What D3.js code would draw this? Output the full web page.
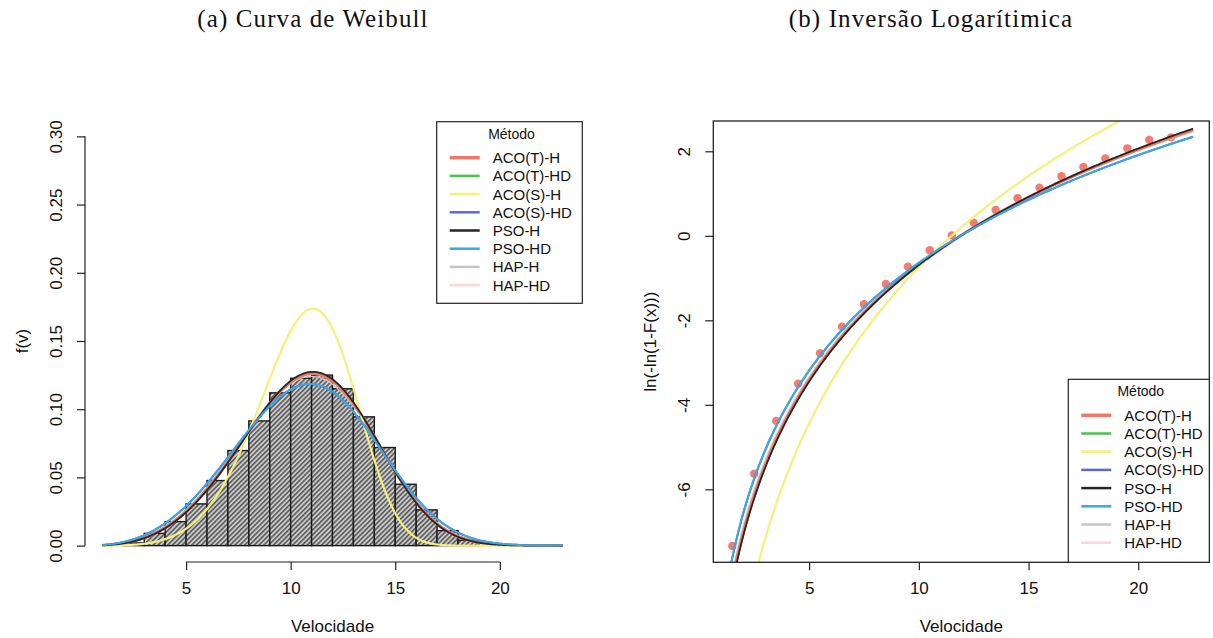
<!DOCTYPE html>
<html>
<head>
<meta charset="utf-8">
<script src="https://cdn.jsdelivr.net/npm/d3@7"></script>
<style>
  body { margin: 0; background: #fff; }
  text { font-family: "Liberation Sans", Arial, sans-serif; fill: #111; }
  .cap { font-family: "Liberation Serif", "DejaVu Serif", serif; }
</style>
</head>
<body>
<svg id="fig" width="1213" height="638"></svg>
<script>
// Fitted methods and their Weibull parameters (shape k, scale c)
const methods = ["ACO(T)-H", "ACO(T)-HD", "ACO(S)-H", "ACO(S)-HD", "PSO-H", "PSO-HD", "HAP-H", "HAP-HD"];
const weibullShape = [3.94, 3.93, 5.33, 3.68, 3.98, 3.68, 3.86, 3.94];
const weibullScale = [11.90, 11.90, 11.50, 11.90, 11.90, 11.90, 11.88, 11.90];

// Histogram of observed wind speed (unit-width bins, density scale)
const binStart = [2, 3, 4, 5, 6, 7, 8, 9, 10, 11, 12, 13, 14, 15, 16, 17, 18];
const binDensity = [0.002, 0.009, 0.0176, 0.0306, 0.0477, 0.0697, 0.0914, 0.112, 0.1227,
                    0.125, 0.115, 0.0944, 0.0719, 0.045, 0.0262, 0.011, 0.004];

// Empirical points for the log-log linearisation
const empX = [1.5, 2.5, 3.5, 4.5, 5.5, 6.5, 7.5, 8.5, 9.5, 10.5, 11.5, 12.5, 13.5, 14.5,
              15.5, 16.5, 17.5, 18.5, 19.5, 20.5, 21.5];
const empY = [-7.34, -5.63, -4.38, -3.50, -2.78, -2.15, -1.62, -1.14, -0.73, -0.34, 0.01,
              0.31, 0.61, 0.89, 1.14, 1.41, 1.63, 1.83, 2.07, 2.27, 2.33];

// Axis limits and ticks
const speedLimitsA = [1, 23];
const densityLimitsA = [0, 0.30];
const speedLimitsB = [1.47, 22.4];
const speedTicks = [5, 10, 15, 20];
const densityTicks = [0, 0.05, 0.10, 0.15, 0.20, 0.25, 0.30];
const lnTicks = [-6, -4, -2, 0, 2];
const curveRangeB = [1, 22.5];

// Styles; curves are stacked in drawOrder (last one on top)
const lineColors = ["#f07868", "#4cc24c", "#f3f07c", "#5b68d8", "#262626", "#3aa8e2", "#c6c6c6", "#ffd4dc"];
const lineWidths = [3, 2, 2.2, 2, 1.8, 2, 1.3, 1.3];
const drawOrder = [7, 6, 1, 0, 2, 3, 4, 5];

const svg = d3.select("#fig");

// R-style 4% padding of an axis range
const pad = ([a, b]) => [a - 0.04 * (b - a), b + 0.04 * (b - a)];

const weibullPdf = (v, k, c) => (k / c) * Math.pow(v / c, k - 1) * Math.exp(-Math.pow(v / c, k));
const weibullLnLn = (v, k, c) => k * Math.log(v) - k * Math.log(c);

// ---------- captions ----------
svg.append("text").attr("class", "cap").attr("x", 313).attr("y", 27)
  .attr("text-anchor", "middle").style("font-size", "25px").style("letter-spacing", "1.1px")
  .text("(a) Curva de Weibull");
svg.append("text").attr("class", "cap").attr("x", 931).attr("y", 27)
  .attr("text-anchor", "middle").style("font-size", "25px").style("letter-spacing", "1.1px")
  .text("(b) Inversão Logarítimica");

// hatch pattern for the histogram bars
const defs = svg.append("defs");
const pat = defs.append("pattern").attr("id", "hatch").attr("patternUnits", "userSpaceOnUse")
  .attr("width", 3.4).attr("height", 3.4).attr("patternTransform", "rotate(45)");
pat.append("rect").attr("width", 3.4).attr("height", 3.4).attr("fill", "#cacaca");
pat.append("line").attr("x1", 0.8).attr("y1", 0).attr("x2", 0.8).attr("y2", 3.4)
  .attr("stroke", "#404040").attr("stroke-width", 1.3);

// ---------- panel (a): density ----------
const A = { left: 84, right: 581, top: 120, bottom: 562 };
const xA = d3.scaleLinear().domain(pad(speedLimitsA)).range([A.left, A.right]);
const yA = d3.scaleLinear().domain(pad(densityLimitsA)).range([A.bottom, A.top]);
const gA = svg.append("g");

gA.selectAll("rect.bar").data(binStart).join("rect").attr("class", "bar")
  .attr("x", d => xA(d)).attr("width", d => xA(d + 1) - xA(d))
  .attr("y", (d, i) => yA(binDensity[i])).attr("height", (d, i) => yA(0) - yA(binDensity[i]))
  .attr("fill", "url(#hatch)").attr("stroke", "#1a1a1a").attr("stroke-width", 1.4);

const vGridA = d3.range(speedLimitsA[0], speedLimitsA[1] + 0.001, 0.05);
const lineA = d3.line().x(d => xA(d[0])).y(d => yA(d[1]));
drawOrder.forEach(i => {
  gA.append("path")
    .datum(vGridA.map(v => [v, weibullPdf(v, weibullShape[i], weibullScale[i])]))
    .attr("d", lineA).attr("fill", "none")
    .attr("stroke", lineColors[i]).attr("stroke-width", lineWidths[i]);
});

// axes (a)
const axA = gA.append("g").attr("transform", `translate(0,${A.bottom})`)
  .call(d3.axisBottom(xA).tickValues(speedTicks).tickSize(8).tickPadding(6).tickFormat(d3.format("d")));
const ayA = gA.append("g").attr("transform", `translate(${A.left + 1},0)`)
  .call(d3.axisLeft(yA).tickValues(densityTicks).tickSize(8).tickFormat(d3.format(".2f")));
[axA, ayA].forEach(g => {
  g.select(".domain").remove();
  g.selectAll("line").attr("stroke", "#222").attr("stroke-width", 1.2);
  g.selectAll("text").style("font-size", "17px").attr("fill", "#111");
});
axA.append("line").attr("x1", xA(speedTicks[0])).attr("x2", xA(speedTicks[speedTicks.length - 1]))
  .attr("stroke", "#222").attr("stroke-width", 1.2);
ayA.append("line").attr("y1", yA(densityTicks[0])).attr("y2", yA(densityTicks[densityTicks.length - 1]))
  .attr("stroke", "#222").attr("stroke-width", 1.2);
ayA.selectAll(".tick text").attr("x", 0).attr("dy", null).attr("text-anchor", "middle")
  .attr("transform", "translate(-23,0) rotate(-90)");
axA.selectAll(".tick text").attr("dy", null).attr("y", 32);

svg.append("text").attr("x", (A.left + A.right) / 2).attr("y", 632).attr("text-anchor", "middle")
  .style("font-size", "17px").text("Velocidade");
svg.append("text").attr("transform", `translate(28,${(A.top + A.bottom) / 2}) rotate(-90)`)
  .attr("text-anchor", "middle").style("font-size", "17px").text("f(v)");

// ---------- panel (b): ln(-ln(1-F)) ----------
const B = { left: 713.3, right: 1209.3, top: 121, bottom: 562.3 };
const xB = d3.scaleLinear().domain(pad(speedLimitsB)).range([B.left, B.right]);
const yB = d3.scaleLinear().domain(pad(d3.extent(empY))).range([B.bottom, B.top]);
const gB = svg.append("g");

defs.append("clipPath").attr("id", "clipB").append("rect")
  .attr("x", B.left).attr("y", B.top).attr("width", B.right - B.left).attr("height", B.bottom - B.top);

gB.selectAll("circle").data(empX).join("circle")
  .attr("cx", d => xB(d)).attr("cy", (d, i) => yB(empY[i])).attr("r", 4.2)
  .attr("fill", "#ef6656").attr("opacity", 0.85);

const vGridB = d3.range(curveRangeB[0], curveRangeB[1] + 0.001, 0.05);
const lineB = d3.line().x(d => xB(d[0])).y(d => yB(d[1]));
const curvesB = gB.append("g").attr("clip-path", "url(#clipB)");
drawOrder.forEach(i => {
  curvesB.append("path")
    .datum(vGridB.map(v => [v, weibullLnLn(v, weibullShape[i], weibullScale[i])]))
    .attr("d", lineB).attr("fill", "none")
    .attr("stroke", lineColors[i]).attr("stroke-width", lineWidths[i]);
});

const axB = gB.append("g").attr("transform", `translate(0,${B.bottom})`)
  .call(d3.axisBottom(xB).tickValues(speedTicks).tickSize(8).tickFormat(d3.format("d")));
const ayB = gB.append("g").attr("transform", `translate(${B.left},0)`)
  .call(d3.axisLeft(yB).tickValues(lnTicks).tickSize(8).tickFormat(d => String(d)));
[axB, ayB].forEach(g => {
  g.select(".domain").remove();
  g.selectAll("line").attr("stroke", "#222").attr("stroke-width", 1.2);
  g.selectAll("text").style("font-size", "17px").attr("fill", "#111");
});
ayB.selectAll(".tick text").attr("x", 0).attr("dy", null).attr("text-anchor", "middle")
  .attr("transform", "translate(-23,0) rotate(-90)");
axB.selectAll(".tick text").attr("dy", null).attr("y", 32);

gB.append("rect").attr("x", B.left).attr("y", B.top).attr("width", B.right - B.left)
  .attr("height", B.bottom - B.top).attr("fill", "none").attr("stroke", "#222").attr("stroke-width", 1.3);

svg.append("text").attr("x", (B.left + B.right) / 2).attr("y", 632).attr("text-anchor", "middle")
  .style("font-size", "17px").text("Velocidade");
svg.append("text").attr("transform", `translate(656,${(B.top + B.bottom) / 2}) rotate(-90)`)
  .attr("text-anchor", "middle").style("font-size", "17px").text("ln(-ln(1-F(x)))");

// ---------- legends ----------
function legend(x, y, w, h) {
  const g = svg.append("g").attr("transform", `translate(${x},${y})`);
  g.append("rect").attr("width", w).attr("height", h).attr("fill", "#fff")
    .attr("stroke", "#222").attr("stroke-width", 1.2);
  g.append("text").attr("x", w / 2 + 2).attr("y", 17).attr("text-anchor", "middle")
    .style("font-size", "14px").text("Método");
  const row = g.selectAll("g.row").data(methods).join("g").attr("class", "row")
    .attr("transform", (d, i) => `translate(0,${36 + i * 18.2})`);
  row.append("line").attr("x1", 13).attr("x2", 43).attr("y1", 0).attr("y2", 0)
    .attr("stroke", (d, i) => lineColors[i]).attr("stroke-width", (d, i) => Math.max(lineWidths[i], 2) + 0.5);
  row.append("text").attr("x", 56).attr("y", 5.5).style("font-size", "15px").text(d => d);
}
legend(436.7, 121.7, 145.6, 181.6);
legend(1068.3, 379.3, 141, 183);
</script>
</body>
</html>
